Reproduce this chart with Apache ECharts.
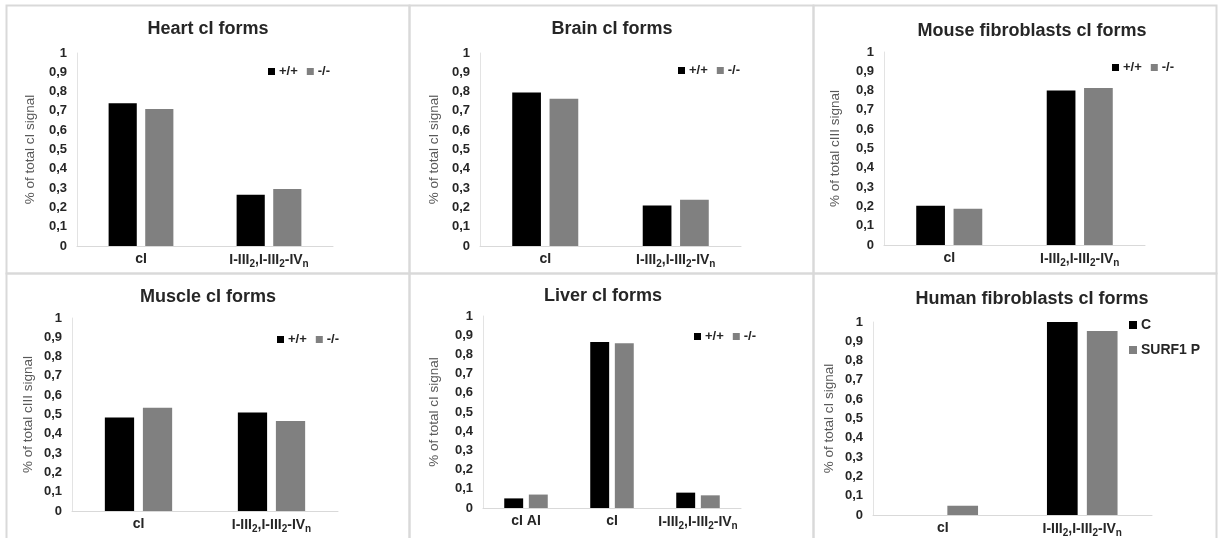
<!DOCTYPE html>
<html>
<head>
<meta charset="utf-8">
<script src="https://cdn.jsdelivr.net/npm/echarts@6/dist/echarts.min.js"></script>
<style>
  html, body { margin: 0; padding: 0; background: #fff; }
  #chart { width: 1218px; height: 538px; }
</style>
</head>
<body>
<div id="chart"></div>
<script>
// ---------- data ----------
const twoCats = ['cI', 'I-III₂,I-III₂-IVₙ'];
const liverCats = ['cI AI', 'cI', 'I-III₂,I-III₂-IVₙ'];
const yTickLabels = ['0', '0,1', '0,2', '0,3', '0,4', '0,5', '0,6', '0,7', '0,8', '0,9', '1'];

const heartWT = [0.74, 0.265];
const heartKO = [0.71, 0.295];
const brainWT = [0.795, 0.21];
const brainKO = [0.763, 0.24];
const mouseWT = [0.203, 0.80];
const mouseKO = [0.188, 0.814];
const muscleWT = [0.485, 0.51];
const muscleKO = [0.535, 0.466];
const liverWT = [0.05, 0.865, 0.08];
const liverKO = [0.07, 0.858, 0.066];
const humanC = [0, 1.0];
const humanP = [0.048, 0.953];

const titles = ['Heart cI forms', 'Brain cI forms', 'Mouse fibroblasts cI forms',
                'Muscle cI forms', 'Liver cI forms', 'Human fibroblasts cI forms'];
const yNames = ['% of total cI signal', '% of total cI signal', '% of total cIII signal',
                '% of total cIII signal', '% of total cI signal', '% of total cI signal'];
const mouseNames = ['+/+', '-/-'];
const humanNames = ['C', 'SURF1 P'];

// ---------- layout (positions/styles only) ----------
const panels = [
  { box: [6, 5, 403, 268],   grid: [77, 53, 256, 193],  titleX: 208,  titleY: 20,  nameGap: 40, legend: [268, 65] },
  { box: [409, 5, 404, 268], grid: [480, 53, 261, 193], titleX: 612,  titleY: 20,  nameGap: 39, legend: [678, 64] },
  { box: [813, 5, 403, 268], grid: [884, 52, 261, 193], titleX: 1032, titleY: 22,  nameGap: 42, legend: [1112, 61] },
  { box: [6, 273, 403, 270], grid: [72, 318, 266, 193], titleX: 208,  titleY: 288, nameGap: 37, legend: [277, 333] },
  { box: [409, 273, 404, 270], grid: [483, 316, 258, 192], titleX: 603, titleY: 287, nameGap: 42, legend: [694, 330] },
  { box: [813, 273, 403, 270], grid: [873, 322, 279, 193], titleX: 1032, titleY: 290, nameGap: 37, legend: [1129, 318], vertical: true }
];
const panelCats = [twoCats, twoCats, twoCats, twoCats, liverCats, twoCats];
const panelData = [
  [heartWT, heartKO], [brainWT, brainKO], [mouseWT, mouseKO],
  [muscleWT, muscleKO], [liverWT, liverKO], [humanC, humanP]
];
const panelNames = [mouseNames, mouseNames, mouseNames, mouseNames, mouseNames, humanNames];
const colors = ['#000000', '#808080'];

const TXT = '#262626';
const FONT = '"Liberation Sans", Arial, sans-serif';

function catFormatter(v) {
  return v.replace(/₂/g, '{sub|2}').replace(/ₙ/g, '{sub|n}');
}

const option = {
  animation: false,
  backgroundColor: '#ffffff',
  textStyle: { fontFamily: FONT },
  title: [], grid: [], xAxis: [], yAxis: [], legend: [], series: [],
  graphic: []
};

panels.forEach((p, i) => {
  option.graphic.push({
    type: 'rect', silent: true, z: -10,
    shape: { x: p.box[0] + 0.5, y: p.box[1] + 0.5, width: p.box[2], height: p.box[3] },
    style: { fill: 'none', stroke: '#d9d9d9', lineWidth: 2 }
  });
  option.title.push({
    text: titles[i], left: p.titleX, top: p.titleY, textAlign: 'center', padding: 0,
    textStyle: { fontFamily: FONT, fontSize: 18, fontWeight: 'bold', color: TXT }
  });
  option.grid.push({ left: p.grid[0], top: p.grid[1], width: p.grid[2], height: p.grid[3], containLabel: false });
  option.xAxis.push({
    type: 'category', gridIndex: i, data: panelCats[i],
    axisLine: { show: true, lineStyle: { color: '#d9d9d9', width: 1 } },
    axisTick: { show: false },
    axisLabel: {
      interval: 0, margin: 6, color: TXT, fontSize: 14, fontWeight: 'bold', fontFamily: FONT,
      formatter: catFormatter,
      rich: {
        sub: { fontSize: 10, fontWeight: 'bold', color: TXT, fontFamily: FONT, verticalAlign: 'bottom', padding: [7, 0, 0, 0] }
      }
    }
  });
  option.yAxis.push({
    type: 'value', gridIndex: i, min: 0, max: 1, interval: 0.1,
    name: yNames[i], nameLocation: 'middle', nameGap: p.nameGap,
    nameTextStyle: { color: '#595959', fontSize: 13.5, fontFamily: FONT },
    axisLine: { show: true, lineStyle: { color: '#e3e3e3', width: 1 } },
    axisTick: { show: false },
    splitLine: { show: false },
    axisLabel: {
      margin: 10, color: TXT, fontSize: 13, fontWeight: 'bold', fontFamily: FONT,
      formatter: v => yTickLabels[Math.round(v * 10)]
    }
  });
  option.legend.push({
    data: panelNames[i].map(n => ({ name: n })),
    left: p.legend[0], top: p.legend[1],
    orient: p.vertical ? 'vertical' : 'horizontal',
    icon: 'rect', itemWidth: p.vertical ? 8 : 7, itemHeight: p.vertical ? 8 : 7, itemGap: p.vertical ? 11 : 9,
    padding: 0, selectedMode: false,
    textStyle: { fontSize: p.vertical ? 14 : 13, fontWeight: 'bold', color: TXT, fontFamily: FONT, padding: [0, 0, 0, -1] }
  });
  panelData[i].forEach((arr, k) => {
    option.series.push({
      type: 'bar', name: panelNames[i][k], xAxisIndex: i, yAxisIndex: i,
      data: arr, barWidth: '22%', barGap: '30%',
      itemStyle: { color: colors[k] }
    });
  });
});

const chart = echarts.init(document.getElementById('chart'), null, { renderer: 'canvas' });
chart.setOption(option);
</script>
</body>
</html>
